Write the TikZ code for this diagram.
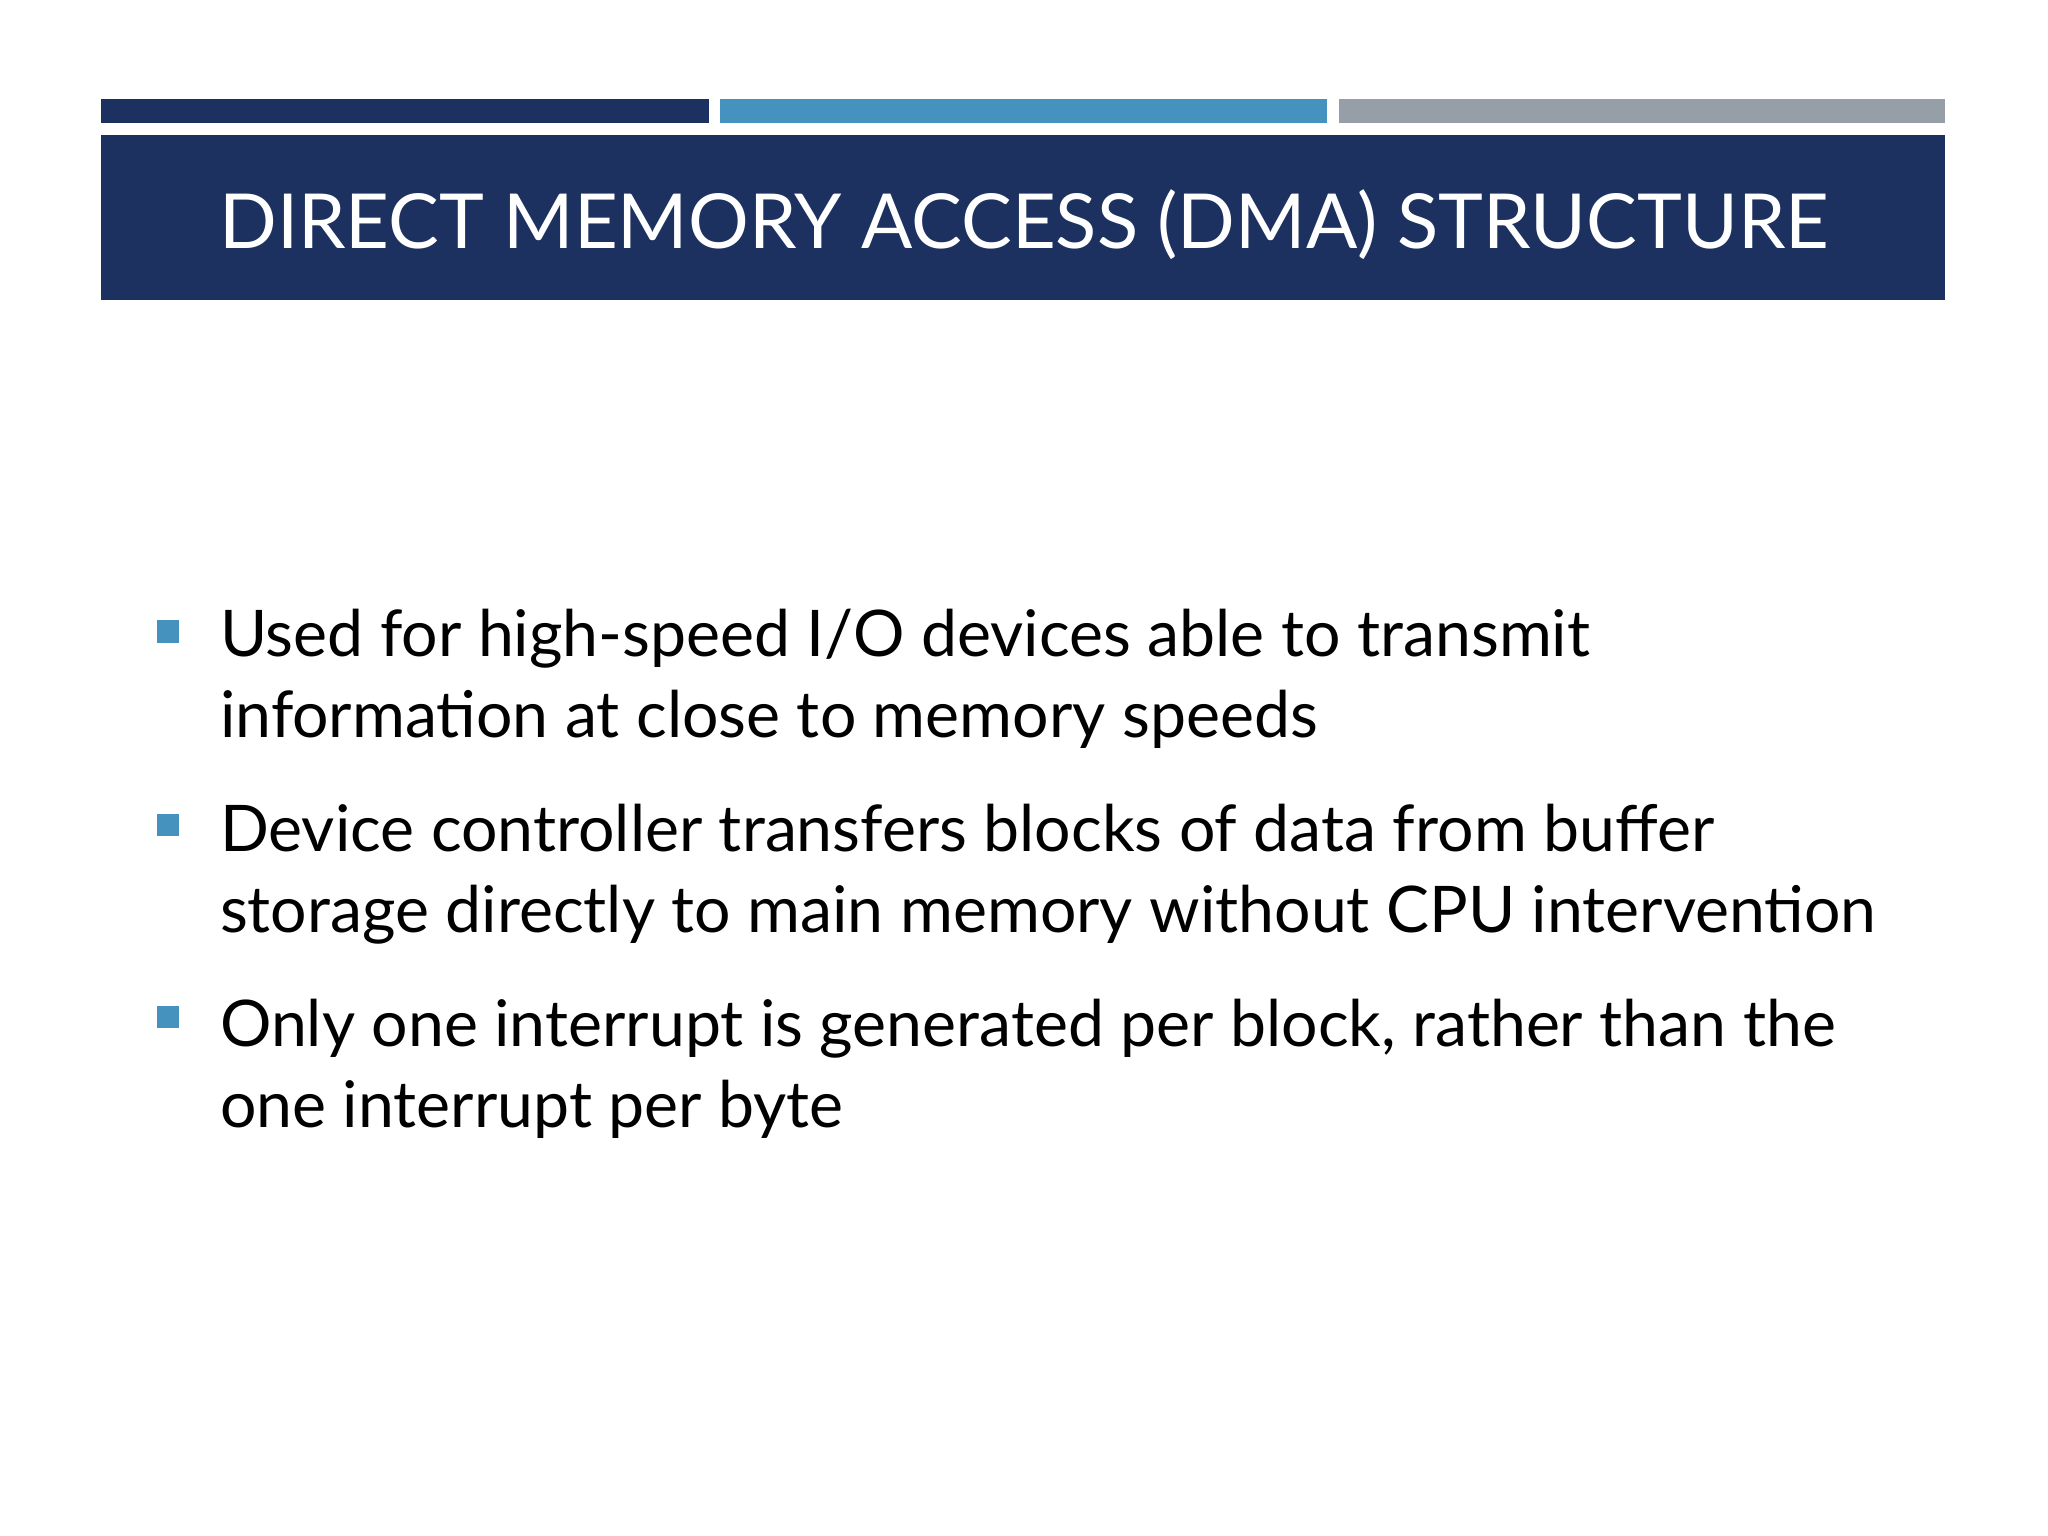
\documentclass[tikz,border=0pt]{standalone}
\usepackage{fontspec}
\setmainfont{Lato}
\definecolor{navy}{HTML}{1C3160}
\definecolor{midblue}{HTML}{4692BF}
\definecolor{greybar}{HTML}{969FA7}
\begin{document}
\begin{tikzpicture}[x=0.013061cm,y=-0.013061cm,
  bul/.style={fill=midblue},
  txt/.style={anchor=base west,inner sep=0pt,font=\fontsize{18.3pt}{22pt}\selectfont}]
\useasboundingbox (0,0) rectangle (1568,1176);
\fill[navy] (77,76) rectangle (543,94);
\fill[midblue] (551,76) rectangle (1016,94);
\fill[greybar] (1025,76) rectangle (1489,94);
\fill[navy] (77,103) rectangle (1489,230);
\node[text=white,inner sep=0pt,anchor=base,font=\fontsize{21.6pt}{26pt}\selectfont] (title) at (784,190) {DIRECT MEMORY ACCESS (DMA) STRUCTURE};
\fill[bul] (120,475) rectangle (137,492);
\fill[bul] (120,623) rectangle (137,640);
\fill[bul] (120,770) rectangle (137,787);
\node[txt] (l1) at (168,503) {Used for high-speed I/O devices able to transmit};
\node[txt] (l2) at (168,565) {information at close to memory speeds};
\node[txt] (l3) at (168,652) {Device controller transfers blocks of data from buffer};
\node[txt] (l4) at (168,714) {storage directly to main memory without CPU intervention};
\node[txt] (l5) at (168,801) {Only one interrupt is generated per block, rather than the};
\node[txt] (l6) at (168,863) {one interrupt per byte};
\end{tikzpicture}
\end{document}
